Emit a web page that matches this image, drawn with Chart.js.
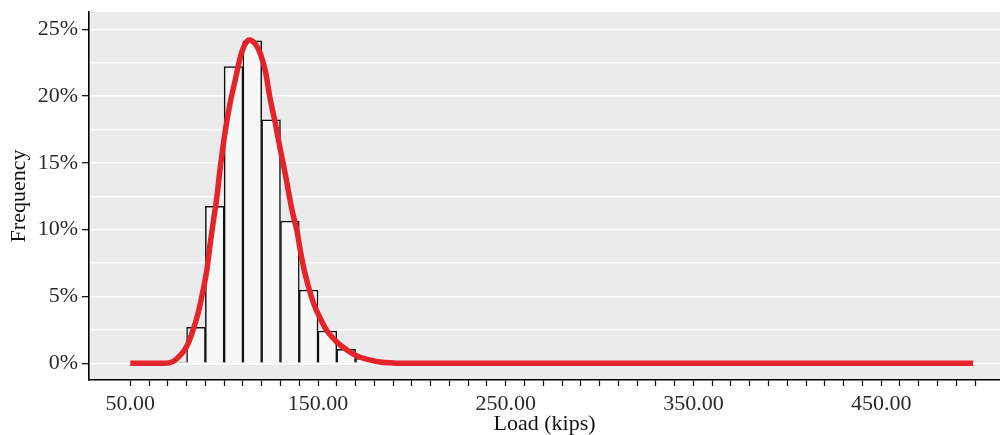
<!DOCTYPE html>
<html>
<head>
<meta charset="utf-8">
<script src="https://cdn.jsdelivr.net/npm/chart.js@4/dist/chart.umd.min.js"></script>
<style>
  html, body { margin: 0; padding: 0; background: #ffffff; }
  #wrap { width: 1000px; height: 435px; position: relative; }
</style>
</head>
<body>
<div id="wrap"><canvas id="c" width="1000" height="435"></canvas></div>
<script>
// Histogram bins (10-kip bins, centre values) and frequencies (%)
const binCenters = [75, 85, 95, 105, 115, 125, 135, 145, 155, 165, 175, 185];
const binFreq    = [0.1, 2.7, 11.75, 22.2, 24.13, 18.22, 10.64, 5.48, 2.42, 1.05, 0.37, 0.05];

// Fitted curve
const curveX = [50, 60, 68, 73, 76.6, 80.2, 83.7, 86.4, 88.1, 90.8, 92.6, 94.3, 96, 97.9,
                100.6, 103.2, 105.9, 108.6, 111.2, 113.5, 116.6, 119.2, 121.9, 124.5, 127.2, 129.9,
                132.5, 136.1, 138.8, 140.5, 142.3, 145, 147.6, 151.2, 154.7, 160, 165.4, 170.7,
                176.9, 183, 190, 196, 250, 350, 450, 499];
const curveY = [0, 0, 0, 0.15, 0.6, 1.3, 2.6, 3.9, 5.0, 7.0, 9.0, 10.7, 12.3, 14.6,
                17.4, 19.5, 21.2, 22.9, 23.9, 24.2, 23.9, 23.2, 21.9, 19.8, 18.0, 16.0,
                14.2, 11.5, 9.9, 8.5, 7.2, 5.7, 4.5, 3.35, 2.45, 1.6, 1.0, 0.55,
                0.28, 0.1, 0.03, 0, 0, 0, 0, 0];

// Axis ticks
const xTicks = [50, 60, 70, 80, 90, 100, 110, 120, 130, 140, 150, 160, 170, 180, 190, 200,
                210, 220, 230, 240, 250, 260, 270, 280, 290, 300, 310, 320, 330, 340, 350,
                360, 370, 380, 390, 400, 410, 420, 430, 440, 450, 460, 470, 480, 490, 500];
const xLabelTicks = [50, 150, 250, 350, 450];
const yGridTicks = [0, 2.5, 5, 7.5, 10, 12.5, 15, 17.5, 20, 22.5, 25];
const yLabelTicks = [0, 5, 10, 15, 20, 25];

const FONT = "'Liberation Serif', 'Times New Roman', serif";
const TEXT = '#2a2a2a';

const plotBg = {
  id: 'plotBg',
  beforeDraw(chart) {
    const {ctx, chartArea: a} = chart;
    ctx.save();
    ctx.fillStyle = '#ebebeb';
    ctx.fillRect(a.left, a.top, a.right - a.left, a.bottom - a.top);
    ctx.restore();
  }
};

new Chart(document.getElementById('c'), {
  type: 'bar',
  data: {
    datasets: [
      {
        type: 'line',
        data: curveX.map((x, i) => ({x: x, y: curveY[i]})),
        borderColor: '#e5232a',
        borderWidth: 5.5,
        pointRadius: 0,
        cubicInterpolationMode: 'monotone',
        fill: false,
        order: 0
      },
      {
        type: 'bar',
        data: binCenters.map((x, i) => ({x: x, y: binFreq[i]})),
        backgroundColor: '#f6f7f7',
        borderColor: '#111111',
        borderWidth: 1.5,
        barPercentage: 1,
        categoryPercentage: 1,
        order: 1
      }
    ]
  },
  options: {
    responsive: false,
    animation: false,
    events: [],
    layout: { padding: { top: 12, right: 0, left: 0, bottom: 0 } },
    plugins: { legend: { display: false }, tooltip: { enabled: false } },
    scales: {
      x: {
        type: 'linear',
        offset: false,
        min: 28,
        max: 513.3,
        afterBuildTicks(s) { s.ticks = xTicks.map(v => ({value: v})); },
        afterFit(s) { s.height = 55; s.paddingLeft = 0; s.paddingRight = 0; },
        grid: { offset: false, drawOnChartArea: false, drawTicks: true, tickLength: 6, tickColor: '#000', tickWidth: 1.2 },
        border: { display: true, color: '#000', width: 1.6 },
        ticks: {
          autoSkip: false,
          maxRotation: 0,
          padding: 5,
          color: TEXT,
          font: { family: FONT, size: 22 },
          callback: (v) => xLabelTicks.includes(v) ? v.toFixed(2) : ''
        },
        title: {
          display: true,
          text: 'Load (kips)',
          color: '#111',
          font: { family: FONT, size: 22, lineHeight: 1 },
          padding: { top: 0, bottom: 0 }
        }
      },
      y: {
        type: 'linear',
        min: -1.25,
        max: 26.29,
        afterBuildTicks(s) { s.ticks = yGridTicks.map(v => ({value: v})); },
        afterFit(s) { s.width = 89; s.paddingTop = 0; s.paddingBottom = 0; },
        grid: {
          color: '#ffffff',
          lineWidth: 1.4,
          drawTicks: true,
          tickLength: 7,
          tickWidth: 1.2,
          tickColor: (ctx) => (ctx.tick && yLabelTicks.includes(ctx.tick.value)) ? '#000' : 'rgba(0,0,0,0)'
        },
        border: { display: true, color: '#000', width: 1.6 },
        ticks: {
          autoSkip: false,
          padding: 4,
          color: TEXT,
          font: { family: FONT, size: 22 },
          callback: (v) => yLabelTicks.includes(v) ? v + '%' : ''
        },
        title: {
          display: true,
          text: 'Frequency',
          color: '#111',
          font: { family: FONT, size: 22, lineHeight: 1 },
          padding: { top: 8, bottom: 0 }
        }
      }
    }
  },
  plugins: [plotBg]
});
</script>
</body>
</html>
